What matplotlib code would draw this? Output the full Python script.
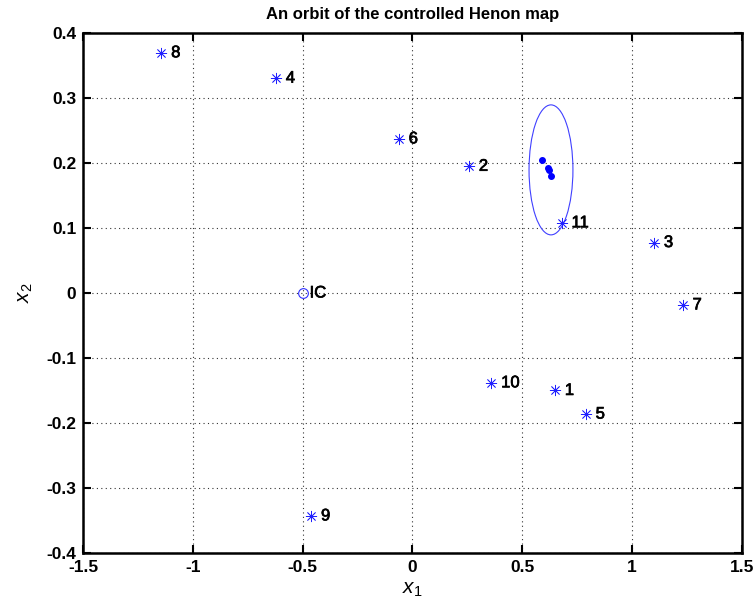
import matplotlib
matplotlib.use("Agg")
import matplotlib.pyplot as plt
import matplotlib.patheffects as pe
from matplotlib.patches import Ellipse

plt.rcParams['font.family'] = ['Liberation Sans', 'DejaVu Sans']
plt.rcParams['mathtext.fontset'] = 'custom'
plt.rcParams['mathtext.it'] = 'Liberation Sans:italic'
plt.rcParams['mathtext.rm'] = 'Liberation Sans'

# Initial condition
ic_x, ic_y = -0.5, 0.0

# Uncontrolled iterates 1..11
orbit_x = [0.650, 0.2585, 1.1015, -0.621, 0.7905, -0.0612, 1.232, -1.1434, -0.4607, 0.3599, 0.6805]
orbit_y = [-0.150, 0.195, 0.0776, 0.3305, -0.1863, 0.2372, -0.0184, 0.3696, -0.343, -0.1382, 0.1080]
orbit_labels = ['1', '2', '3', '4', '5', '6', '7', '8', '9', '10', '11']

# Controlled iterates near the fixed point
ctrl_x = [0.5895, 0.618, 0.623, 0.632]
ctrl_y = [0.2046, 0.1918, 0.189, 0.1805]

# Control region: circle around the fixed point
fp_x, fp_y = 0.6314, 0.1894
radius = 0.1

fig = plt.figure(figsize=(7.56, 6.11), dpi=100)
ax = fig.add_axes([0.110, 0.095, 0.871, 0.851])

ax.add_patch(Ellipse((fp_x, fp_y), 2 * radius, 2 * radius, fill=False,
                     edgecolor='#4040ff', linewidth=0.8, zorder=3))

ax.plot(orbit_x, orbit_y, linestyle='none', marker=(8, 2, 0), markersize=8,
        color='#2020ff', markeredgewidth=0.55, zorder=4)
ax.plot([ic_x], [ic_y], linestyle='none', marker='o', markersize=7,
        markerfacecolor='none', markeredgecolor='#3030ff', markeredgewidth=0.8, zorder=4)
ax.plot(ctrl_x, ctrl_y, linestyle='none', marker='o', markersize=4,
        color='blue', zorder=4)

label_fx = [pe.withStroke(linewidth=0.5, foreground='black')]
for xv, yv, lab in zip(orbit_x, orbit_y, orbit_labels):
    ax.annotate(lab, (xv, yv), xytext=(7, 0), textcoords='offset points',
                ha='left', va='center', fontsize=12, color='black',
                path_effects=label_fx)
ax.annotate('IC', (ic_x, ic_y), xytext=(5, 0), textcoords='offset points',
            ha='left', va='center', fontsize=12, color='black',
            path_effects=label_fx)

ax.set_xlim(-1.5, 1.5)
ax.set_ylim(-0.4, 0.4)
ax.set_xticks([-1.5, -1, -0.5, 0, 0.5, 1, 1.5])
ax.set_xticklabels(['-1.5', '-1', '-0.5', '0', '0.5', '1', '1.5'])
ax.set_yticks([-0.4, -0.3, -0.2, -0.1, 0, 0.1, 0.2, 0.3, 0.4])
ax.set_yticklabels(['-0.4', '-0.3', '-0.2', '-0.1', '0', '0.1', '0.2', '0.3', '0.4'])

ax.grid(True, color='black', linestyle=(0, (1, 3)), linewidth=0.8, alpha=0.8)
ax.tick_params(direction='in', top=True, right=True, length=6, width=1.5,
               labelsize=12.5, pad=5)
for lbl in ax.get_xticklabels() + ax.get_yticklabels():
    lbl.set_fontweight('bold')
for sp in ax.spines.values():
    sp.set_linewidth(1.8)

ax.set_title('An orbit of the controlled Henon map', fontsize=12, fontweight='bold', pad=10)
ax.set_xlabel('$x_1$', fontsize=15, labelpad=4)
ax.set_ylabel('$x_2$', fontsize=15, labelpad=8)

fig.savefig('out.png', dpi=100)
